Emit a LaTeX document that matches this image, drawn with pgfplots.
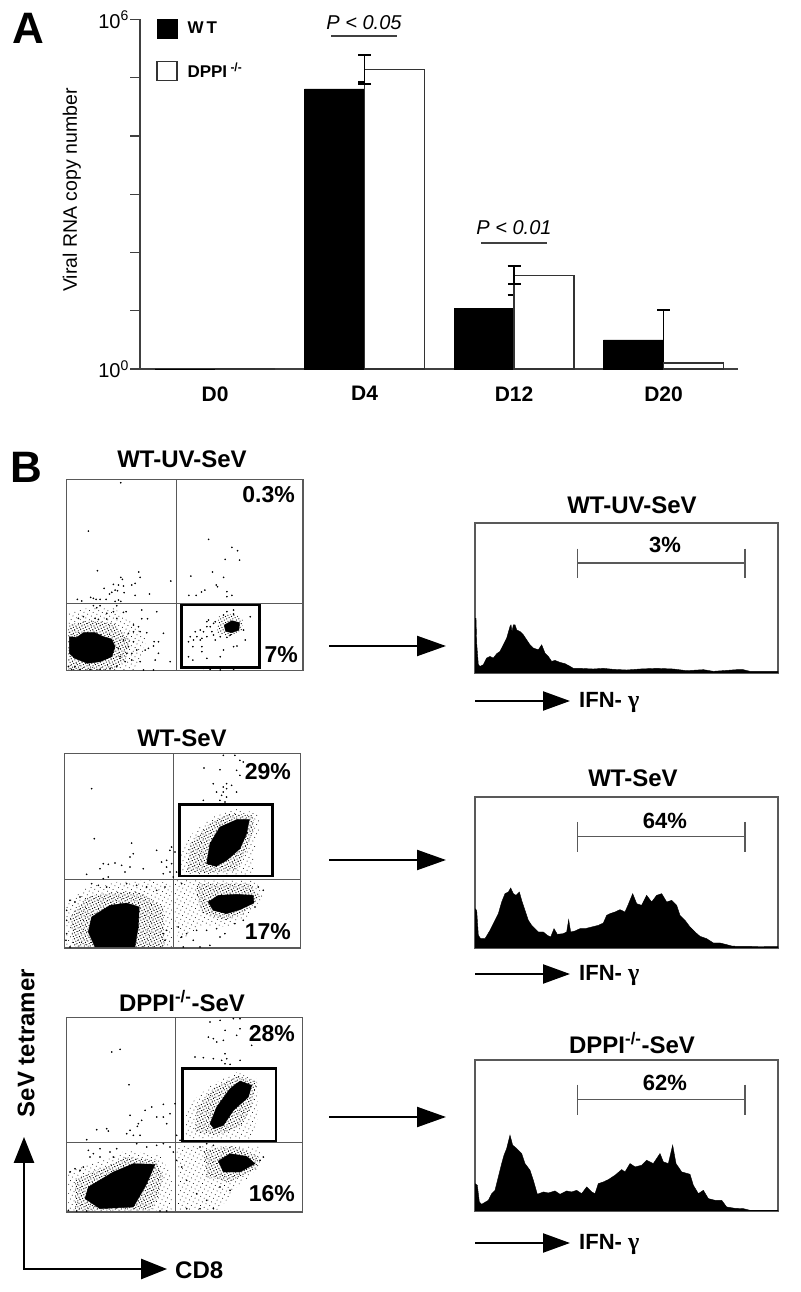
\documentclass[border=0pt]{standalone}
\usepackage{fontspec}
\setmainfont{Liberation Sans}
\newfontfamily\gk{Liberation Serif}
\usepackage{pgfplots}
\pgfplotsset{compat=1.18}
\usetikzlibrary{arrows.meta,patterns.meta}
\newcommand\fs[1]{\fontsize{#1}{#1}\selectfont}
\tikzset{
 dens/.style={draw=none,pattern={Dots[radius=0.62pt,distance=2.7pt,angle=27]},pattern color=black},
 med/.style={draw=none,pattern={Dots[radius=0.5pt,distance=4.1pt,angle=63]},pattern color=black},
}
\pgfplotsset{
 facs/.style={scale only axis,anchor=south west,y dir=reverse,xtick=\empty,ytick=\empty,
   axis line style={draw=black!65,line width=1.1pt}},
 hist/.style={scale only axis,anchor=south west,xtick=\empty,ytick=\empty,width=303pt,
   xmin=45,xmax=954,axis line style={draw=black!65,line width=1.2pt}},
 dots/.style={only marks,mark=*,mark size=0.6pt,mark options={draw=none,fill=black}},
 quad/.style={black!65,line width=1pt,no marks},
 gate/.style={black,line width=2.8pt,no marks},
 hfill/.style={fill=black,draw=black,line width=0.4pt,no marks},
 gatebar/.style={black!65,line width=1.4pt,no marks},
}
\begin{document}
\begin{tikzpicture}
\useasboundingbox (0pt,0pt) rectangle (800pt,1292pt);

% ---------- A ----------
\begin{axis}[scale only axis,anchor=south west,at={(140pt,923pt)},width=598pt,height=349.5pt,
 ymode=log,ymin=1,ymax=1000000,xmin=-0.502,xmax=3.498,
 axis lines=left,axis line style={-,black!75,line width=1.3pt},
 ytick={1,10,100,1000,10000,100000,1000000},
 yticklabels={10\textsuperscript{0},,,,,,10\textsuperscript{6}},
 yminorticks=false,
 yticklabel style={font=\fs{20},inner sep=1pt},
 xtick={0,1,2,3},xticklabels={D0,D4,D12,D20},
 xticklabel style={font=\fs{21}\bfseries,yshift=-4pt},
 tick align=outside,major tick length=10pt,
 xtick style={draw=none},ytick style={black!75,line width=1.2pt},
 ylabel={Viral RNA copy number},
 every axis y label/.append style={at={(axis description cs:-0.114,0.512)},anchor=center,font=\fs{19.5}},
 legend style={at={(axis description cs:0.0268,1.003)},anchor=north west,draw=none,fill=none,
   inner sep=0pt,row sep=23pt,font=\fs{17}\bfseries,legend cell align=left,
   nodes={inner xsep=10pt,inner ysep=0pt}},
 legend image code/.code={\draw[#1,bar shift=0pt] (0pt,-9.5pt) rectangle (20pt,9.5pt);},
 clip=false]
\addplot[ybar,bar width=60pt,bar shift=-30pt,fill=black,draw=black,line width=0.5pt,
 error bars/.cd,y dir=plus,y explicit,
 error bar style={line width=1.2pt,black},error mark options={rotate=90,mark size=6.5pt,line width=1.2pt,black}]
 coordinates {(0,1) (1,64120) += (0,20400) (2,11.14) += (0,7.5) (3,3.15) += (0,7.15)};
\addplot[ybar,bar width=60pt,bar shift=30pt,fill=white,draw=black!80,line width=1.3pt,
 error bars/.cd,y dir=both,y explicit,
 error bar style={line width=1.2pt,black},error mark options={rotate=90,mark size=6.5pt,line width=1.2pt,black}]
 coordinates {(0,1) (1,138000) += (0,107000) -= (0,59800) (2,40.3) += (0,18.3) -= (0,11.5) (3,1.26)};
\legend{W\kern3pt T,DPPI\textsuperscript{ -/-}}
\addplot[forget plot,no marks,black!75,line width=1.3pt] coordinates {(0.776,521000) (1.217,521000)};
\addplot[forget plot,no marks,black!75,line width=1.3pt] coordinates {(1.779,145.5) (2.221,145.5)};
\end{axis}

% ---------- scatter 1 ----------
\begin{axis}[facs,at={(66.7pt,621.3pt)},width=236.3pt,height=191.3pt,xmin=200,xmax=908,ymin=118,ymax=692]
\addplot[med] coordinates {(205,520)(260,505)(340,505)(400,545)(440,600)(420,670)(400,690)(205,690)} -- cycle;
\addplot[dens] coordinates {(205,555)(270,540)(340,550)(390,600)(375,660)(340,690)(205,690)} -- cycle;
\addplot[hfill] coordinates {(208,590)(230,592)(250,578)(285,578)(310,590)(335,597)(345,620)(335,650)(300,665)(262,670)(225,655)(208,640)} -- cycle;
\addplot[dens] coordinates {(655,530)(700,520)(728,540)(725,575)(690,590)(650,580)} -- cycle;
\addplot[hfill] coordinates {(672,555)(695,542)(718,548)(716,570)(695,578)(676,574)} -- cycle;
\addplot[dots] coordinates {(362,128)(265,273)(292,392)(416,396)(420,412)(362,412)(367,418)(340,433)(355,435)(370,438)(312,445)(405,430)(395,435)(512,423)(345,450)(335,457)(352,452)(328,462)(372,458)(405,466)(448,462)(272,472)(280,475)(288,478)(300,478)(318,478)(232,478)(245,483)(355,480)(362,484)(345,484)(625,298)(695,322)(712,332)(675,358)(718,360)(637,396)(572,408)(670,412)(648,435)(652,440)(680,455)(614,450)(604,456)(588,466)(566,466)(680,470)(695,466)
(280,497)(300,497)(350,497)(290,503)(425,510)(470,515)(340,515)(320,520)(370,517)(378,515)(235,535)(250,530)(285,535)(295,538)(320,537)(350,535)(425,536)(442,536)(400,555)(415,560)(490,580)(440,578)(420,575)(400,575)(385,580)(475,605)(462,605)(445,625)(435,630)(460,618)(475,640)(420,665)(395,660)(510,665)(465,660)(430,690)(460,690)(385,620)(400,605)(370,600)(380,640)(360,650)(395,640)(410,630)(355,625)(375,665)(350,680)(330,685)(300,688)(270,688)(240,688)(215,688)(205,680)(225,680)
(680,515)(700,510)(670,525)(700,522)(625,540)(640,550)(620,560)(610,575)(600,570)(585,575)(570,590)(565,605)(580,600)(605,595)(620,590)(645,600)(660,590)(700,620)(710,618)(735,600)(750,530)(780,540)(730,570)(605,620)(578,620)(565,650)(578,660)(620,655)(660,650)(670,630)(605,635)(680,592)(690,585)(620,545)(630,560)(645,545)(600,600)(590,590)(635,575)(640,585)(610,685)(630,688)(660,690)(700,688)};
\addplot[quad] coordinates {(530,118)(530,692)};
\addplot[quad] coordinates {(200,490)(908,490)};
\addplot[gate] coordinates {(543,495)(778,495)(778,682)(543,682)} -- cycle;
\end{axis}

% ---------- scatter 2 ----------
\begin{axis}[facs,at={(64.3pt,344pt)},width=236.3pt,height=194.3pt,xmin=43,xmax=752,ymin=100,ymax=683]
\addplot[med] coordinates {(50,545)(110,500)(200,485)(300,480)(365,490)(368,680)(50,680)} -- cycle;
\addplot[dens] coordinates {(60,590)(110,530)(190,515)(270,515)(340,560)(345,680)(70,680)} -- cycle;
\addplot[hfill] coordinates {(125,590)(180,555)(230,548)(268,560)(265,620)(255,680)(135,680)(115,635)} -- cycle;
\addplot[med] coordinates {(375,480)(620,480)(640,530)(590,590)(530,620)(450,615)(385,670)(375,600)} -- cycle;
\addplot[dens] coordinates {(440,490)(600,490)(630,530)(580,580)(520,600)(460,580)(440,530)} -- cycle;
\addplot[hfill] coordinates {(475,545)(505,525)(560,522)(610,525)(612,548)(570,568)(530,580)(490,570)} -- cycle;
\addplot[med] coordinates {(395,465)(392,395)(430,335)(500,280)(560,265)(625,280)(630,330)(610,400)(610,460)(520,468)} -- cycle;
\addplot[dens] coordinates {(410,455)(420,370)(480,310)(540,280)(610,285)(610,330)(585,400)(560,450)(470,458)} -- cycle;
\addplot[hfill] coordinates {(470,430)(480,370)(510,320)(560,298)(598,298)(590,340)(570,385)(530,420)(498,438)} -- cycle;
\addplot[dots] coordinates {(125,205)(133,355)(245,368)(320,390)(250,400)(240,410)(160,430)(175,432)(195,428)(215,435)(240,440)(225,455)(150,445)(110,462)(280,445)(335,425)(350,440)(360,390)(375,395)(360,455)(340,460)(175,470)(160,475)(350,420)(365,430)(365,380)(520,105)(555,105)(570,120)(580,125)(462,143)(510,148)(560,150)(570,165)(490,190)(520,200)(530,205)(545,195)(500,215)(515,225)(530,230)(560,215)(510,240)(460,240)(520,215)(525,245)(530,190)
(60,540)(75,545)(90,530)(125,490)(145,495)(170,500)(230,490)(260,495)(290,500)(320,510)(345,500)(395,490)(370,470)(380,455)(385,620)(395,650)(410,640)(430,660)(450,680)(480,675)(510,650)(525,640)(400,680)(440,630)(470,630)(500,625)(555,610)(580,600)(615,560)(640,510)(625,500)(350,630)(340,640)(345,660)(50,570)(50,600)(50,640)(48,660)(60,680)};
\addplot[quad] coordinates {(372,100)(372,683)};
\addplot[quad] coordinates {(43,477)(752,477)};
\addplot[gate] coordinates {(388,253)(668,253)(668,467)(388,467)} -- cycle;
\end{axis}

% ---------- scatter 3 ----------
\begin{axis}[facs,at={(66.7pt,80pt)},width=236pt,height=194.3pt,xmin=200,xmax=908,ymin=172,ymax=755]
\addplot[med] coordinates {(205,630)(300,600)(380,570)(480,585)(515,640)(515,750)(205,750)} -- cycle;
\addplot[dens] coordinates {(225,660)(300,625)(380,590)(470,600)(490,650)(470,720)(450,750)(225,750)} -- cycle;
\addplot[hfill] coordinates {(265,680)(340,635)(400,610)(465,612)(440,670)(400,740)(300,745)(255,715)} -- cycle;
\addplot[med] coordinates {(530,555)(780,560)(780,620)(700,690)(660,750)(535,750)} -- cycle;
\addplot[dens] coordinates {(610,570)(700,555)(775,590)(770,625)(690,665)(620,650)} -- cycle;
\addplot[hfill] coordinates {(655,602)(690,580)(740,588)(765,610)(720,635)(670,635)} -- cycle;
\addplot[med] coordinates {(555,535)(560,450)(590,410)(640,370)(710,335)(775,355)(775,470)(755,535)} -- cycle;
\addplot[dens] coordinates {(585,515)(590,440)(640,385)(710,345)(770,365)(755,440)(720,500)(650,525)} -- cycle;
\addplot[hfill] coordinates {(630,490)(650,440)(690,385)(720,362)(755,375)(745,410)(700,450)(670,495)(642,505)} -- cycle;
\addplot[dots] coordinates {(335,275)(360,267)(387,373)(490,432)(455,440)(435,450)(425,480)(390,465)(415,490)(412,498)(470,470)(490,470)(510,460)(500,490)(290,508)(320,505)(325,512)(260,538)(390,510)(400,525)(420,525)(380,520)(525,430)(530,525)(540,540)(630,185)(660,180)(700,175)(720,175)(675,210)(720,205)(625,230)(640,235)(650,245)(670,240)(710,225)(755,255)(585,290)(610,292)(640,295)(665,300)(680,295)(720,300)(675,280)(675,310)(690,312)
(265,570)(280,580)(270,590)(300,565)(330,575)(350,565)(410,550)(440,560)(470,555)(490,550)(510,560)(520,575)(210,635)(225,625)(240,630)(250,620)(300,590)(340,590)(530,600)(545,620)(560,660)(590,700)(620,720)(640,745)(600,745)(560,745)(660,680)(690,690)(780,600)(790,590)(600,560)(620,550)(640,555)(205,750)(230,752)(260,752)(480,752)(500,752)};
\addplot[quad] coordinates {(525,172)(525,755)};
\addplot[quad] coordinates {(200,545)(908,545)};
\addplot[gate] coordinates {(548,325)(828,325)(828,542)(548,542)} -- cycle;
\end{axis}

% ---------- histogram 1 ----------
\begin{axis}[hist,at={(475pt,619pt)},height=150pt,ymin=0,ymax=452]
\addplot[hfill] coordinates {(45,0)(45,165)(48,165)(50,90)(55,25)(60,20)(70,25)(80,45)(90,50)(100,45)(110,58)(120,65)(130,85)(140,105)(150,140)(153,145)(156,125)(160,145)(165,145)(170,130)(180,125)(190,115)(200,100)(210,85)(220,75)(235,70)(245,85)(255,60)(265,50)(275,35)(285,38)(300,32)(315,28)(330,20)(340,14)(360,14)(400,12)(430,14)(460,11)(500,9)(540,12)(590,14)(640,12)(680,7)(730,10)(760,5)(830,10)(850,10)(870,5)(954,5)(954,0)} -- cycle;
\addplot[gatebar] coordinates {(353,375)(353,285)};
\addplot[gatebar] coordinates {(855,375)(855,285)};
\addplot[gatebar] coordinates {(353,332)(855,332)};
\end{axis}

% ---------- histogram 2 ----------
\begin{axis}[hist,at={(475pt,344pt)},height=151pt,ymin=0,ymax=453]
\addplot[hfill] coordinates {(45,0)(45,118)(50,113)(55,38)(62,28)(75,28)(90,53)(105,83)(115,103)(125,138)(135,163)(145,168)(152,180)(160,163)(168,158)(178,168)(185,143)(195,113)(205,83)(215,68)(225,58)(235,48)(250,48)(262,38)(272,33)(282,58)(292,41)(310,43)(320,48)(326,85)(332,48)(345,51)(360,58)(375,58)(395,63)(415,68)(430,75)(440,98)(450,103)(465,108)(480,115)(495,108)(505,131)(518,163)(530,133)(545,128)(560,158)(575,138)(590,158)(605,163)(620,138)(635,143)(650,128)(660,98)(675,83)(690,63)(705,48)(720,35)(740,28)(760,15)(780,15)(800,10)(815,6)(830,5)(954,4)(954,0)} -- cycle;
\addplot[gatebar] coordinates {(353,378)(353,288)};
\addplot[gatebar] coordinates {(855,378)(855,288)};
\addplot[gatebar] coordinates {(353,334)(855,334)};
\end{axis}

% ---------- histogram 3 ----------
\begin{axis}[hist,at={(475pt,81pt)},height=151pt,ymin=0,ymax=452]
\addplot[hfill] coordinates {(45,0)(45,82)(52,77)(58,27)(65,20)(85,32)(95,52)(105,62)(115,102)(125,142)(132,167)(140,187)(150,227)(158,197)(170,187)(185,172)(195,142)(210,122)(220,92)(232,50)(250,57)(265,54)(285,60)(300,50)(320,60)(335,57)(350,62)(365,52)(380,72)(395,57)(405,52)(415,82)(430,87)(445,94)(465,107)(485,124)(495,117)(510,142)(525,132)(545,137)(560,152)(580,142)(600,172)(610,147)(625,142)(638,197)(648,142)(665,117)(690,110)(700,77)(715,52)(730,62)(745,37)(765,32)(785,32)(800,12)(825,8)(850,7)(870,2)(954,2)(954,0)} -- cycle;
\addplot[gatebar] coordinates {(353,378)(353,288)};
\addplot[gatebar] coordinates {(855,378)(855,288)};
\addplot[gatebar] coordinates {(353,334)(855,334)};
\end{axis}

% ---------- texts and arrows ----------
\begin{scope}[shift={(0pt,1292pt)},x=1pt,y=-1pt]
\tikzset{every node/.style={inner sep=0pt}}
\node[font=\fs{44}\bfseries] at (28,28) {A};
\node[font=\fs{44}\bfseries] at (26,467) {B};
\node[font=\fs{20}\itshape] at (364,23) {P < 0.05};
\node[font=\fs{20}\itshape] at (514,228) {P < 0.01};
\foreach \x/\y/\t in {182/459/WT-UV-SeV,182/738/WT-SeV,632/505/WT-UV-SeV,633/778/WT-SeV}
 \node[font=\fs{24}\bfseries] at (\x,\y) {\t};
\node[font=\fs{24}\bfseries] at (182,1001) {DPPI\textsuperscript{-/-}-SeV};
\node[font=\fs{24}\bfseries] at (632,1043) {DPPI\textsuperscript{-/-}-SeV};
\foreach \x/\y/\t in {295/495/0.3\%,298/655/7\%,291/772/29\%,291/932/17\%,295/1034/28\%,295/1194/16\%}
 \node[font=\fs{23}\bfseries,anchor=east] at (\x,\y) {\t};
\foreach \y/\t in {545/3\%,821/64\%,1083/62\%}
 \node[font=\fs{22}\bfseries] at (665,\y) {\t};
\foreach \y in {646,860,1117}
 \draw[line width=2.2pt,-{Triangle[length=29pt,width=20pt]}] (329,\y)--(446,\y);
\foreach \y in {701,974,1243}{
 \draw[line width=2.2pt,-{Triangle[length=27pt,width=19pt]}] (475,\y)--(570,\y);
 \node[font=\fs{22}\bfseries,anchor=west] at (579,\y+1) {IFN- {\gk\fs{24}\bfseries γ}};
}
\draw[line width=2.6pt,{Triangle[length=26pt,width=20pt]}-{Triangle[length=26pt,width=20pt]}] (24,1137)--(24,1269)--(167,1269);
\node[font=\fs{24}\bfseries,anchor=west] at (175,1270) {CD8};
\node[font=\fs{24}\bfseries,rotate=90] at (26,1043) {SeV tetramer};
\end{scope}
\end{tikzpicture}
\end{document}
